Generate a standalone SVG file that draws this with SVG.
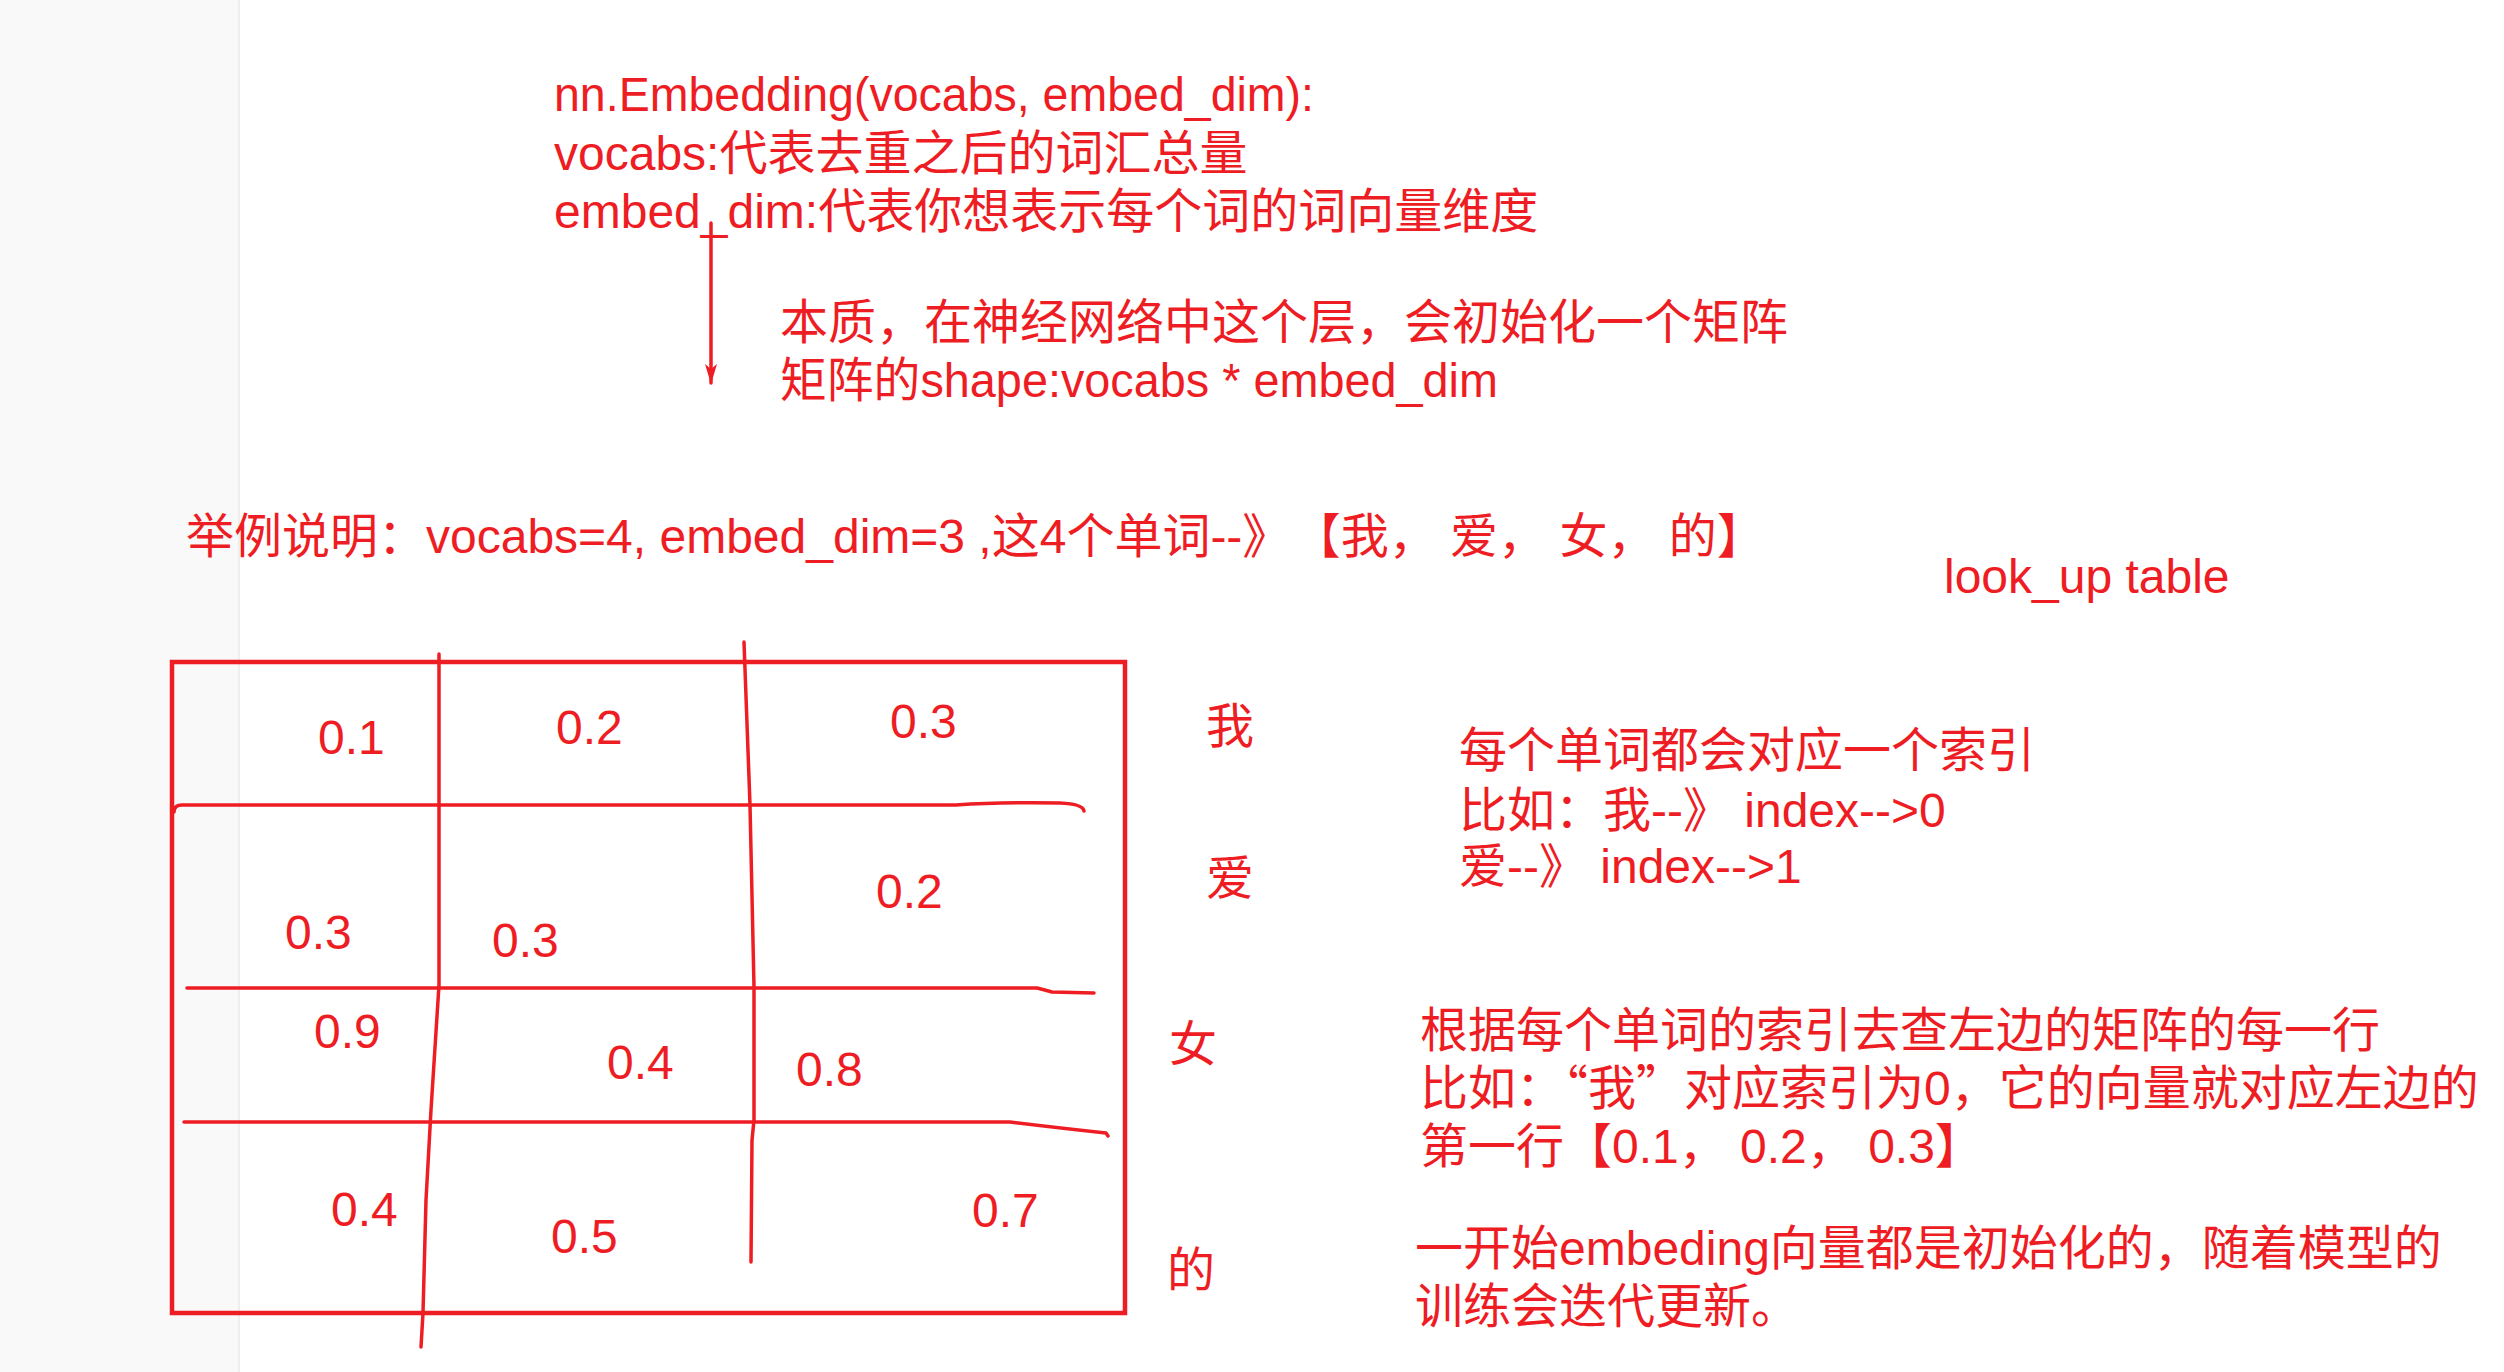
<svg xmlns="http://www.w3.org/2000/svg" width="2504" height="1372" viewBox="0 0 2504 1372">
<style>
  text { font-family: 'Liberation Sans', 'Noto Sans CJK SC', sans-serif; font-size: 48px; fill: #EE1D23; }
  .cjk { font-family: 'Noto Sans CJK SC', sans-serif; }
  .pen { fill: none; stroke: #EE1D23; stroke-width: 3.5; stroke-linecap: round; stroke-linejoin: round; }
  .frame { fill: none; stroke: #EE1D23; stroke-width: 4.5; }
</style>
<defs>
  <marker id="arrow" viewBox="0 0 20 12" refX="19" refY="6" markerWidth="20" markerHeight="12" markerUnits="userSpaceOnUse" orient="auto">
    <path d="M0,0 L20,6 L0,12 L5,6 Z" fill="#EE1D23"/>
  </marker>
</defs>
<rect x="0" y="0" width="2504" height="1372" fill="#FFFFFF"/>
<rect x="0" y="0" width="239" height="1372" fill="#F9F9F9"/>
<line x1="239" y1="0" x2="239" y2="1372" stroke="#EAEAEA" stroke-width="1.5"/>

<g id="intro">
  <text x="554" y="111" textLength="760" lengthAdjust="spacingAndGlyphs">nn.Embedding(vocabs, embed_dim):</text>
  <text x="554" y="170">vocabs:代表去重之后的词汇总量</text>
  <text x="554" y="228">embed_dim:代表你想表示每个词的词向量维度</text>
</g>
<g id="essence">
  <text x="780" y="339">本质，在神经网络中这个层，会初始化一个矩阵</text>
  <text x="780" y="397" textLength="718" lengthAdjust="spacingAndGlyphs">矩阵的shape:vocabs * embed_dim</text>
</g>
<g id="example">
  <text x="186" y="553">举例说明：vocabs=4, embed_dim=3 ,这4个单词--》&#160;<tspan dx="-11">【我，&#160;爱，&#160;女，&#160;的】</tspan></text>
</g>
<g id="lookup-label">
  <text x="1944" y="593">look_up table</text>
</g>

<g id="table">
  <rect class="frame" x="172" y="662" width="953" height="651"/>
  <path class="pen" d="M439,654 L439,985 L431,1110 L426,1200 L423,1313 L421,1347"/>
  <path class="pen" d="M744,642 L750,805 L754,987 L754,1120 L752,1140 L751,1262"/>
  <path class="pen" d="M174,812 Q174,805 182,805 L956,805 Q1000,802 1060,803 Q1083,804 1084,811"/>
  <path class="pen" d="M187,988 L1037,988 Q1045,990 1052,992 L1094,993"/>
  <path class="pen" d="M184,1122 L1010,1122 Q1060,1128 1106,1133 L1108,1136"/>
  <text x="318" y="754">0.1</text>
  <text x="556" y="744">0.2</text>
  <text x="890" y="738">0.3</text>
  <text x="285" y="949">0.3</text>
  <text x="492" y="957">0.3</text>
  <text x="876" y="908">0.2</text>
  <text x="314" y="1048">0.9</text>
  <text x="607" y="1079">0.4</text>
  <text x="796" y="1086">0.8</text>
  <text x="331" y="1226">0.4</text>
  <text x="551" y="1253">0.5</text>
  <text x="972" y="1227">0.7</text>
</g>

<g id="row-labels">
  <text x="1206" y="743">我</text>
  <text x="1206" y="895">爱</text>
  <text x="1169" y="1061">女</text>
  <text x="1167" y="1287">的</text>
</g>

<g id="index-note">
  <text x="1459" y="767">每个单词都会对应一个索引</text>
  <text x="1459" y="827">比如：我--》&#160;index--&gt;0</text>
  <text x="1459" y="883">爱--》&#160;index--&gt;1</text>
</g>
<g id="lookup-note">
  <text x="1420" y="1047">根据每个单词的索引去查左边的矩阵的每一行</text>
  <text x="1420" y="1105">比如：<tspan class="cjk">“</tspan>我<tspan class="cjk">”</tspan>对应索引为0，它的向量就对应左边的</text>
  <text x="1420" y="1163">第一行【0.1， 0.2， 0.3】</text>
</g>
<g id="training-note">
  <text x="1415" y="1265">一开始embeding向量都是初始化的，随着模型的</text>
  <text x="1415" y="1323">训练会迭代更新。</text>
</g>

<g id="connectors">
  <line class="pen" x1="711" y1="223" x2="711" y2="383" stroke-width="3" marker-end="url(#arrow)"/>
</g>
</svg>
